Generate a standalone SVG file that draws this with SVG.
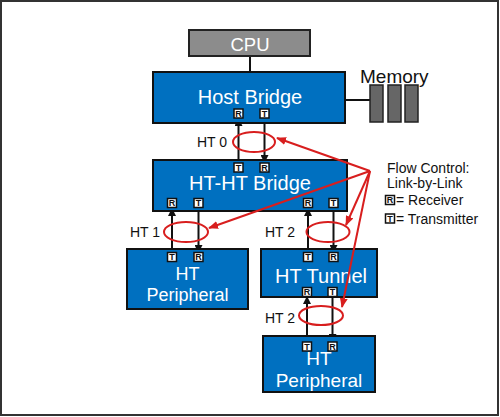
<svg xmlns="http://www.w3.org/2000/svg" width="500" height="417" viewBox="0 0 500 417">
<defs>
<style>
.box{fill:#0070C0;stroke:#111;stroke-width:2}
.bt{fill:#fff;font-family:"Liberation Sans",Arial,sans-serif;text-anchor:middle}
.lbl{fill:#111;font-family:"Liberation Sans",Arial,sans-serif;font-size:14px}
.ic{fill:#fff;stroke:#111;stroke-width:1.5}
.ict{fill:#111;font-family:"Liberation Sans",Arial,sans-serif;font-size:9px;font-weight:bold;text-anchor:middle}
.blk{stroke:#111;stroke-width:2;fill:none}
.red{stroke:#d81e1e;stroke-width:2;fill:none}
</style>
<marker id="ah" markerWidth="8" markerHeight="8" refX="7" refY="4" orient="auto" markerUnits="userSpaceOnUse"><path d="M0,0 L8,4 L0,8 z" fill="#111"/></marker>
<marker id="rh" markerWidth="10" markerHeight="8" refX="9" refY="4" orient="auto" markerUnits="userSpaceOnUse"><path d="M0,0 L10,4 L0,8 z" fill="#d81e1e"/></marker>
<g id="icR"><rect class="ic" x="-4.5" y="-4.5" width="9" height="9"/><text class="ict" x="0" y="3.3">R</text></g>
<g id="icT"><rect class="ic" x="-4.5" y="-4.5" width="9" height="9"/><text class="ict" x="0" y="3.3">T</text></g>
</defs>
<rect x="1" y="1" width="497" height="414" fill="#fff" stroke="#333" stroke-width="2"/>

<g id="connectors">
<line class="blk" x1="250" y1="56" x2="250" y2="72"/>
<line class="blk" x1="345" y1="100" x2="370" y2="100"/>
<line class="blk" x1="238.5" y1="160" x2="238.5" y2="119" marker-end="url(#ah)"/>
<line class="blk" x1="264.5" y1="119" x2="264.5" y2="162" marker-end="url(#ah)"/>
<line class="blk" x1="172" y1="249" x2="172" y2="209" marker-end="url(#ah)"/>
<line class="blk" x1="198.5" y1="209" x2="198.5" y2="252" marker-end="url(#ah)"/>
<line class="blk" x1="308" y1="249" x2="308" y2="209" marker-end="url(#ah)"/>
<line class="blk" x1="333.5" y1="209" x2="333.5" y2="252" marker-end="url(#ah)"/>
<line class="blk" x1="307" y1="336" x2="307" y2="297" marker-end="url(#ah)"/>
<line class="blk" x1="332.5" y1="297" x2="332.5" y2="341" marker-end="url(#ah)"/>
</g>

<g id="cpu">
<rect x="189" y="30" width="121" height="26" fill="#8c8c8c" stroke="#222" stroke-width="2"/>
<text class="bt" x="250" y="51" font-size="18.5">CPU</text>
</g>

<g id="host-bridge">
<rect class="box" x="153" y="72" width="192" height="51"/>
<text class="bt" x="250" y="104" font-size="20">Host Bridge</text>
<use href="#icR" x="238.5" y="113.5"/>
<use href="#icT" x="264.5" y="113.5"/>
</g>

<g id="memory">
<text class="lbl" x="360" y="83" style="font-size:19px">Memory</text>
<rect x="370" y="85" width="13" height="37" fill="#666" stroke="#222" stroke-width="1.5"/>
<rect x="388" y="85" width="13" height="37" fill="#666" stroke="#222" stroke-width="1.5"/>
<rect x="405" y="85" width="13" height="37" fill="#666" stroke="#222" stroke-width="1.5"/>
</g>

<g id="ht-ht-bridge">
<rect class="box" x="153" y="160" width="194" height="51"/>
<text class="bt" x="250" y="190" font-size="20">HT-HT Bridge</text>
<use href="#icT" x="238.5" y="167.5"/>
<use href="#icR" x="264.5" y="167.5"/>
<use href="#icR" x="172" y="203"/>
<use href="#icT" x="198.5" y="203"/>
<use href="#icR" x="308" y="203"/>
<use href="#icT" x="333.5" y="203"/>
</g>

<g id="ht-peripheral-1">
<rect class="box" x="127" y="249" width="121" height="60"/>
<use href="#icT" x="172" y="257"/>
<use href="#icR" x="198.5" y="257"/>
<text class="bt" x="187.5" y="280" font-size="18">HT</text>
<text class="bt" x="187.5" y="301" font-size="18">Peripheral</text>
</g>

<g id="ht-tunnel">
<rect class="box" x="261" y="249" width="116" height="48"/>
<use href="#icT" x="308" y="257"/>
<use href="#icR" x="333.5" y="257"/>
<text class="bt" x="321" y="283" font-size="20">HT Tunnel</text>
<use href="#icR" x="307" y="292"/>
<use href="#icT" x="332.5" y="292"/>
</g>

<g id="ht-peripheral-2">
<rect class="box" x="263" y="336" width="112" height="56"/>
<use href="#icT" x="307" y="346.5"/>
<use href="#icR" x="332.5" y="346.5"/>
<text class="bt" x="319" y="365" font-size="19">HT</text>
<text class="bt" x="319" y="387" font-size="19">Peripheral</text>
</g>

<g id="links">
<text class="lbl" x="197" y="147">HT 0</text>
<ellipse class="red" cx="254" cy="142" rx="21" ry="10"/>
<text class="lbl" x="130" y="237">HT 1</text>
<ellipse class="red" cx="186" cy="232" rx="22" ry="10"/>
<text class="lbl" x="265" y="237">HT 2</text>
<ellipse class="red" cx="328" cy="232" rx="21.5" ry="10"/>
<text class="lbl" x="265" y="323">HT 2</text>
<ellipse class="red" cx="321" cy="315.5" rx="22" ry="9.5"/>
</g>

<g id="flow-pointers">
<line class="red" x1="370" y1="171" x2="277" y2="138" marker-end="url(#rh)"/>
<line class="red" x1="370" y1="171" x2="209" y2="228" marker-end="url(#rh)"/>
<line class="red" x1="370" y1="171" x2="346" y2="225" marker-end="url(#rh)"/>
<line class="red" x1="370" y1="171" x2="342" y2="307" marker-end="url(#rh)"/>
</g>

<g id="legend">
<text class="lbl" x="387" y="173">Flow Control:</text>
<text class="lbl" x="387" y="188">Link-by-Link</text>
<use href="#icR" x="390" y="200"/>
<text class="lbl" x="396" y="205">= Receiver</text>
<use href="#icT" x="390" y="218.5"/>
<text class="lbl" x="396" y="223.5">= Transmitter</text>
</g>
</svg>
